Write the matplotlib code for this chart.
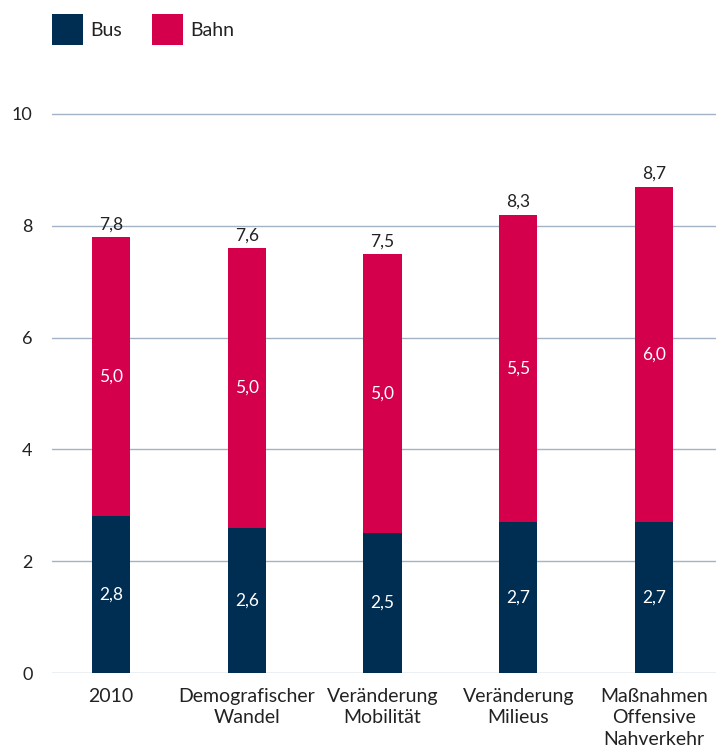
import matplotlib
matplotlib.use("Agg")
import matplotlib.pyplot as plt
from matplotlib.patches import Rectangle

categories = ["2010", "Demografischer\nWandel", "Veränderung\nMobilität", "Veränderung\nMilieus", "Maßnahmen\nOffensive\nNahverkehr"]
bus = [2.8, 2.6, 2.5, 2.7, 2.7]
bahn = [5.0, 5.0, 5.0, 5.5, 6.0]
totals = [7.8, 7.6, 7.5, 8.3, 8.7]
yticks = [0, 2, 4, 6, 8, 10]
series = ["Bus", "Bahn"]

plt.rcParams['font.family'] = ['Lato', 'DejaVu Sans']
BUS_C = "#002d52"
BAHN_C = "#d5004b"
GRID_C = "#a3b3c4"
TXT_C = "#222222"

def fmt(v):
    return f"{v:.1f}".replace(".", ",")

W, H = 716, 750
fig = plt.figure(figsize=(W/100, H/100), dpi=100)
ax = fig.add_axes([52/W, 1-673/H, 1-52/W, (673-58)/H])

x = list(range(len(categories)))
w = 0.28
ax.bar(x, bus, width=w, color=BUS_C, zorder=3)
ax.bar(x, bahn, width=w, bottom=bus, color=BAHN_C, zorder=3)

for i in x:
    ax.text(i, bus[i]/2, fmt(bus[i]), ha="center", va="center", color="white", fontsize=12.5, zorder=4)
    ax.text(i, bus[i] + bahn[i]/2, fmt(bahn[i]), ha="center", va="center", color="white", fontsize=12.5, zorder=4)
    ax.text(i, bus[i] + bahn[i] + 0.08, fmt(totals[i]), ha="center", va="bottom", color=TXT_C, fontsize=12.5, zorder=4)

ax.set_xlim(-0.434, len(categories) - 1 + 0.456)
ax.set_ylim(0, 11)
ax.set_yticks(yticks)
ax.set_yticklabels([str(t) for t in yticks], fontsize=13, color=TXT_C)
ax.set_xticks(x)
ax.set_xticklabels(categories, fontsize=14, color=TXT_C, linespacing=1.3)
ax.tick_params(axis="both", length=0)
ax.tick_params(axis="y", pad=14)
ax.tick_params(axis="x", pad=11)
for s in ax.spines.values():
    s.set_visible(False)
ax.yaxis.grid(True, color=GRID_C, linewidth=1.0, zorder=0)
ax.set_axisbelow(True)

# legend
for j, (name, col) in enumerate(zip(series, [BUS_C, BAHN_C])):
    x0 = 52 + j * 100
    fig.add_artist(Rectangle((x0/W, 1-45/H), 31/W, 31/H, transform=fig.transFigure, facecolor=col, edgecolor="none"))
    fig.text((x0 + 38)/W, 1-30/H, name, ha="left", va="center", fontsize=14, color=TXT_C)

fig.savefig("out.png", dpi=100)
